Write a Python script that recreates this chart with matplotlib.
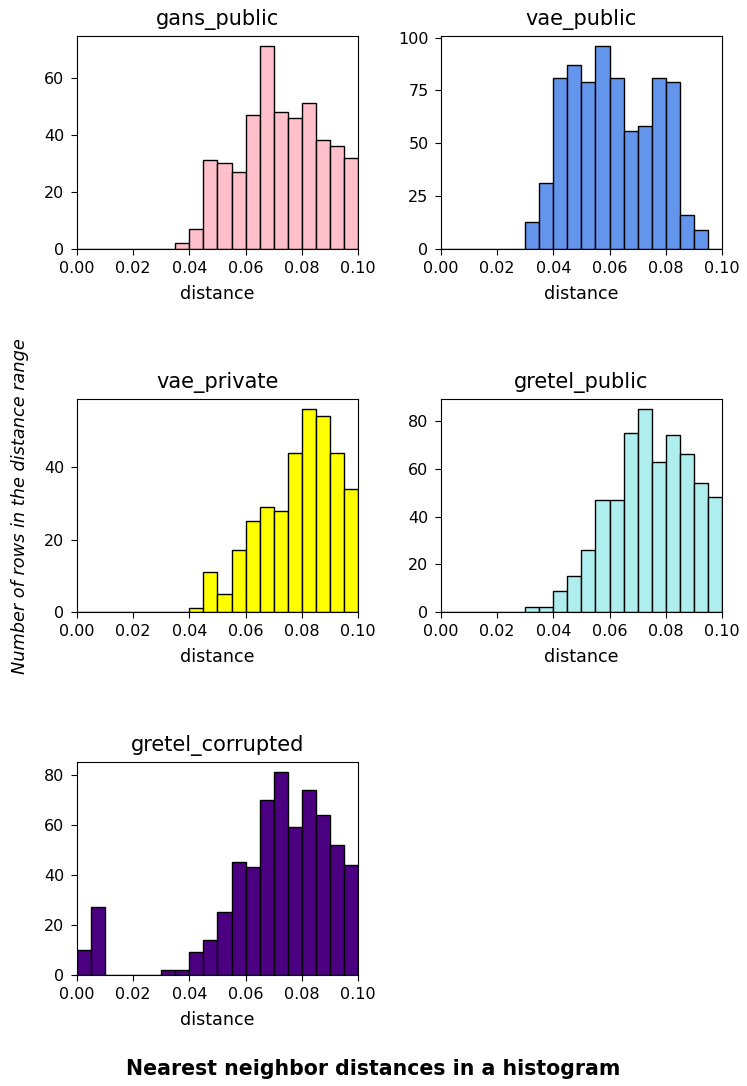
import numpy as np
import matplotlib
matplotlib.use("Agg")
import matplotlib.pyplot as plt
from matplotlib.ticker import MultipleLocator

# bin edges: 20 bins of width 0.005 between 0 and 0.1
bin_edges = np.linspace(0.0, 0.1, 21)

names = ["gans_public", "vae_public", "vae_private", "gretel_public", "gretel_corrupted"]
colors = ["pink", "cornflowerblue", "yellow", "paleturquoise", "indigo"]
ytick_steps = [20, 25, 20, 20, 20]

gans_public = [0, 0, 0, 0, 0, 0, 0, 2, 7, 31, 30, 27, 47, 71, 48, 46, 51, 38, 36, 32]
vae_public = [0, 0, 0, 0, 0, 0, 13, 31, 81, 87, 79, 96, 81, 56, 58, 81, 79, 16, 9, 0]
vae_private = [0, 0, 0, 0, 0, 0, 0, 0, 1, 11, 5, 17, 25, 29, 28, 44, 56, 54, 44, 34]
gretel_public = [0, 0, 0, 0, 0, 0, 2, 2, 9, 15, 26, 47, 47, 75, 85, 63, 74, 66, 54, 48]
gretel_corrupted = [10, 27, 0, 0, 0, 0, 2, 2, 9, 14, 25, 45, 43, 70, 81, 59, 74, 64, 52, 44]

counts = [gans_public, vae_public, vae_private, gretel_public, gretel_corrupted]

plt.rcParams["xtick.labelsize"] = 11.5
plt.rcParams["ytick.labelsize"] = 11.5
plt.rcParams["xtick.major.size"] = 4.5
plt.rcParams["ytick.major.size"] = 4.5
plt.rcParams["xtick.major.pad"] = 4.4
plt.rcParams["ytick.major.pad"] = 4.4

fig, axes = plt.subplots(3, 2, figsize=(7.47, 10.86), dpi=100)
fig.subplots_adjust(left=0.103, right=0.9665, top=0.9669, bottom=0.1022,
                    wspace=0.295, hspace=0.704)

for ax, name, color, cnt, step in zip(axes.flat, names, colors, counts, ytick_steps):
    ax.hist(bin_edges[:-1], bins=bin_edges, weights=cnt,
            color=color, edgecolor="black")
    ax.set_xlim(0, 0.1)
    ax.yaxis.set_major_locator(MultipleLocator(step))
    ax.set_title(name, fontsize=15, pad=8)
    ax.set_xlabel("distance", fontsize=12.6, labelpad=6)

axes.flat[-1].remove()

fig.text(20 / 747, 0.534, "Number of rows in the distance range",
         rotation=90, style="italic", ha="center", va="center", fontsize=12.8)
fig.text(0.5, 0.0155, "Nearest neighbor distances in a histogram",
         fontweight="bold", fontsize=14.8, ha="center", va="center")

fig.savefig("out.png", dpi=100)
